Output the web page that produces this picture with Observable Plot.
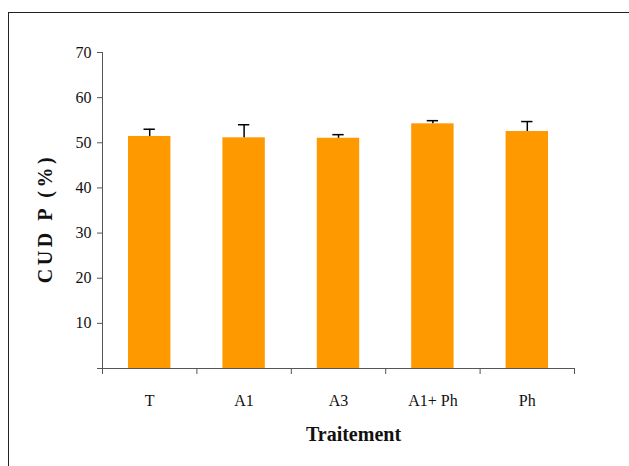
<!DOCTYPE html>
<html>
<head>
<meta charset="utf-8">
<script src="https://cdn.jsdelivr.net/npm/d3@7"></script>
<script src="https://cdn.jsdelivr.net/npm/@observablehq/plot@0.6"></script>
<style>
  html, body { margin: 0; padding: 0; background: #fff; overflow: hidden; }
  #wrap { position: relative; width: 629px; height: 466px; overflow: hidden; }
  #border { position: absolute; left: 8px; top: 12px; width: 700px; height: 600px; border: 1px solid #222; box-sizing: border-box; pointer-events: none; }
  svg { font-family: "Liberation Serif", "Times New Roman", serif; }
  svg text.ticklbl { font-size: 16px !important; }
</style>
</head>
<body>
<div id="wrap"><div id="border"></div><div id="chart"></div></div>
<script>
const categories = ["T", "A1", "A3", "A1+ Ph", "Ph"];
const means = [51.4, 51.1, 51.0, 54.2, 52.5];
const errors = [1.6, 2.9, 0.8, 0.7, 2.2];
const yTicks = [0, 10, 20, 30, 40, 50, 60, 70];

const data = categories.map((c, i) => ({cat: c, i, mean: means[i], err: errors[i]}));

const chart = Plot.plot({
  width: 629,
  height: 466,
  marginLeft: 102,
  marginRight: 55,
  marginTop: 52,
  marginBottom: 98,
  style: {background: "transparent", fontFamily: "'Liberation Serif', serif", fontSize: "16px"},
  x: {domain: [0, categories.length], axis: null},
  y: {domain: [0, 70], axis: null},
  marks: [
    Plot.rectY(data, {x1: d => d.i, x2: d => d.i + 1, y: "mean", fill: "#FF9900", insetLeft: 26, insetRight: 26}),
    Plot.ruleX(data, {x: d => d.i + 0.5, y1: "mean", y2: d => d.mean + d.err, stroke: "#000", strokeWidth: 1.5}),
    Plot.ruleY(data, {y: d => d.mean + d.err, x1: d => d.i + 0.5 - 0.06, x2: d => d.i + 0.5 + 0.06, stroke: "#000", strokeWidth: 1.5}),
    Plot.axisY({ticks: yTicks, tickFormat: d => d === 0 ? "" : d, tickSize: 5, tickPadding: 6, stroke: "#555", fill: "#111", label: null, fontSize: 16}),
    Plot.axisX({ticks: d3.range(categories.length + 1), tickFormat: () => "", tickSize: 6, stroke: "#555", label: null}),
    Plot.axisX({ticks: categories.map((c, i) => i + 0.5), tickFormat: (d) => categories[Math.floor(d)], tickSize: 0, tickPadding: 26, fill: "#111", label: null, fontSize: 16}),
    Plot.ruleX([0], {stroke: "#555"}),
    Plot.ruleY([0], {stroke: "#555", x1: 0, x2: categories.length, insetLeft: -5}),
    Plot.text(["Traitement"], {frameAnchor: "bottom", dx: 15, dy: 72, fontSize: 20, fontWeight: "bold", fill: "#111"}),
    Plot.text(["CUD P (%)"], {frameAnchor: "left", textAnchor: "middle", dx: -57, dy: 8, rotate: -90, fontSize: 20, fontWeight: "bold", fill: "#111"})
  ]
});
document.getElementById("chart").appendChild(chart);
const tickTexts = new Set([...yTicks.map(String), ...categories]);
d3.select(chart).selectAll("text").filter(function() { return tickTexts.has(this.textContent); })
  .attr("class", "ticklbl").attr("font-size", 16).style("font-size", "16px");
d3.select(chart).selectAll("text").filter(function() { return this.textContent === "CUD P (%)"; })
  .style("letter-spacing", "3.5px");
</script>
</body>
</html>
